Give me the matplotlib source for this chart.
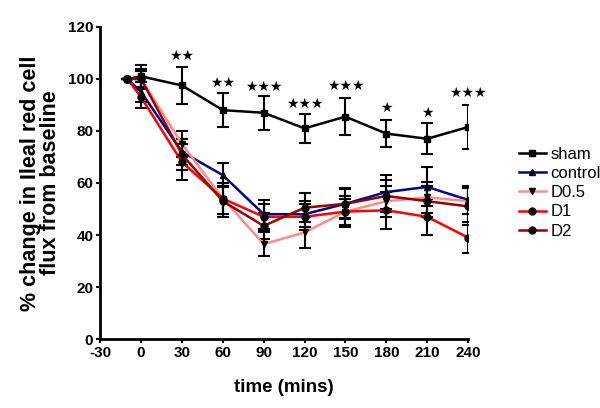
import matplotlib.pyplot as plt
from matplotlib.lines import Line2D
import numpy as np

plt.rcParams['font.family'] = ['Liberation Sans', 'DejaVu Sans']
plt.rcParams['axes.unicode_minus'] = False

time = [-10, 0, 30, 60, 90, 120, 150, 180, 210, 240]

sham = [100, 101, 97.5, 88, 87, 81, 85.5, 79, 77, 81.5]
sham_err = [0, 4.5, 7, 6.5, 6.5, 5.5, 7, 5.3, 6, 8.5]
control = [100, 95, 72, 63, 48, 48, 52, 56.5, 58.5, 53.5]
control_err = [0, 4, 5, 4.5, 5.5, 5, 5.5, 6.5, 7.5, 5.5]
d05 = [100, 100, 75, 54, 36.5, 41, 49, 53, 54.5, 53]
d05_err = [0, 3, 5, 6, 4.5, 6, 5, 6, 6, 5]
d1 = [100, 93, 68, 54, 47, 47, 49, 49.5, 47, 39]
d1_err = [0, 4, 7, 6, 5, 5, 6, 7, 7, 6]
d2 = [100, 100, 71, 53, 43.5, 50.5, 52, 55, 53, 51]
d2_err = [0, 4, 6, 6, 5, 5.5, 6, 6, 6, 7]

star_x = [30, 60, 90, 120, 150, 180, 210, 240]
star_y = [109, 98.5, 97, 90.5, 97.5, 89, 87, 94.5]
star_n = [2, 2, 3, 3, 3, 1, 1, 3]

series = [
    ('sham', sham, sham_err, 'black', 's'),
    ('control', control, control_err, '#00008B', '^'),
    ('D0.5', d05, d05_err, '#FF8C8C', 'v'),
    ('D1', d1, d1_err, '#FF0000', 'o'),
    ('D2', d2, d2_err, '#990000', 'o'),
]

fig = plt.figure(figsize=(6, 4.08), dpi=100)
ax = fig.add_axes([0.167, 0.169, 0.613, 0.765])

handles = []
for name, y, e, c, m in series:
    ax.errorbar(time, y, yerr=e, color=c, ecolor='black', elinewidth=1.5,
                capsize=4, capthick=1.5, lw=1.8, marker=m, ms=5,
                mfc='black', mec='black')
    handles.append(Line2D([], [], color=c, lw=1.8, marker=m, ms=5,
                          mfc='black', mec='black', label=name))

for x, y, n in zip(star_x, star_y, star_n):
    ax.text(x, y, '★' * n, ha='center', va='center', fontsize=10,
            family=['DejaVu Sans'])

ax.set_xlim(-30, 240)
ax.set_ylim(0, 120)
ax.set_xticks(np.arange(-30, 241, 30))
ax.set_yticks(np.arange(0, 121, 20))
for s in ['top', 'right']:
    ax.spines[s].set_visible(False)
for s in ['left', 'bottom']:
    ax.spines[s].set_linewidth(2)
ax.tick_params(width=1.5, length=3, labelsize=11, pad=2)
for lab in ax.get_xticklabels() + ax.get_yticklabels():
    lab.set_fontweight('bold')

ax.set_xlabel('time (mins)', fontsize=13.5, fontweight='bold', labelpad=14)
ax.set_ylabel('% change in Ileal red cell\nflux from baseline', fontsize=15.5,
              fontweight='bold', labelpad=5, linespacing=0.95)

ax.legend(handles=handles, loc='upper left', bbox_to_anchor=(0.865, 0.64),
          bbox_transform=fig.transFigure, frameon=False, fontsize=12,
          handlelength=1.6, handletextpad=0.3, labelspacing=0.25,
          borderpad=0, borderaxespad=0)

fig.savefig('out.png', dpi=100)
